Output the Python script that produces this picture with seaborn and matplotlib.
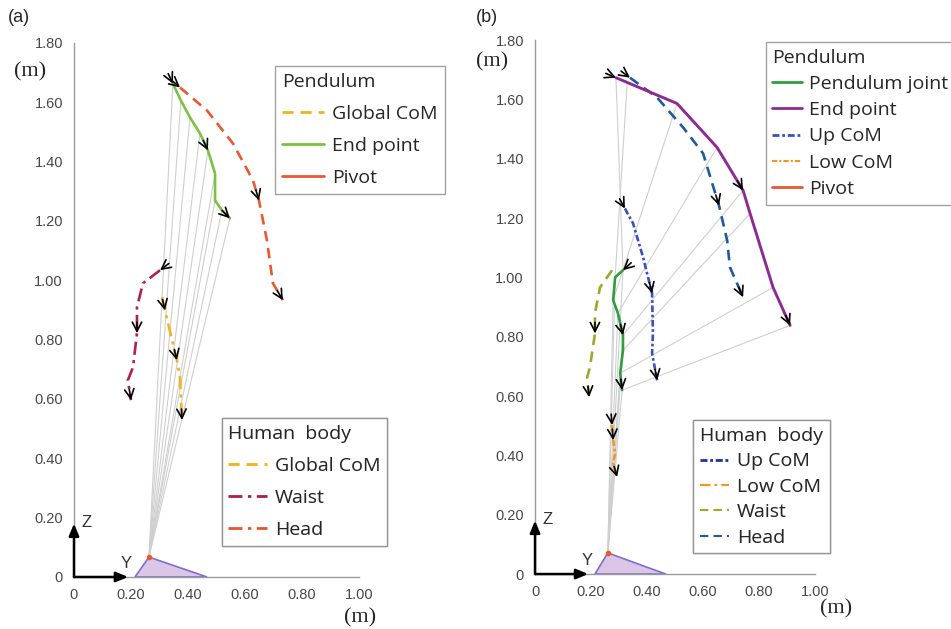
import numpy as np
import matplotlib
matplotlib.use("Agg")
import matplotlib.pyplot as plt
from matplotlib.lines import Line2D
import seaborn as sns

# ----------------- Data (metres) -----------------
XTICKS = [0, 0.2, 0.4, 0.6, 0.8, 1.0]
XTICK_LABELS = ["0", "0.20", "0.40", "0.60", "0.80", "1.00"]
YTICKS = [0, 0.2, 0.4, 0.6, 0.8, 1.0, 1.2, 1.4, 1.6, 1.8]
YTICK_LABELS = ["0", "0.20", "0.40", "0.60", "0.80", "1.00", "1.20", "1.40", "1.60", "1.80"]

# base support (triangle) and pivot
base_a_x = [0.214, 0.263, 0.467]
base_a_y = [0.0, 0.067, 0.0]
base_b_x = [0.214, 0.260, 0.467]
base_b_y = [0.0, 0.071, 0.0]

# panel (a) - single pendulum
a_end_x = [0.347, 0.375, 0.407, 0.442, 0.470, 0.495, 0.495, 0.519, 0.547]
a_end_y = [1.663, 1.606, 1.549, 1.495, 1.438, 1.360, 1.269, 1.236, 1.209]
a_head_x = [0.372, 0.467, 0.558, 0.628, 0.649, 0.677, 0.698, 0.733]
a_head_y = [1.650, 1.572, 1.461, 1.337, 1.269, 1.135, 0.990, 0.933]
a_waist_x = [0.302, 0.242, 0.221, 0.221, 0.207, 0.189, 0.200]
a_waist_y = [1.034, 0.990, 0.909, 0.822, 0.707, 0.663, 0.596]
a_com_x = [0.309, 0.319, 0.361, 0.372, 0.379]
a_com_y = [0.943, 0.899, 0.731, 0.673, 0.529]

# panel (b) - double pendulum
b_end_x = [0.289, 0.329, 0.507, 0.650, 0.743, 0.768, 0.850, 0.911]
b_end_y = [1.673, 1.657, 1.586, 1.438, 1.293, 1.215, 0.966, 0.838]
b_joint_x = [0.314, 0.286, 0.279, 0.296, 0.314, 0.314, 0.304, 0.311]
b_joint_y = [1.024, 1.000, 0.923, 0.879, 0.805, 0.754, 0.677, 0.620]
b_head_x = [0.339, 0.436, 0.529, 0.600, 0.657, 0.686, 0.696, 0.743]
b_head_y = [1.673, 1.606, 1.505, 1.418, 1.242, 1.125, 1.034, 0.933]
b_upcom_x = [0.321, 0.350, 0.386, 0.418, 0.421, 0.418, 0.436]
b_upcom_y = [1.232, 1.182, 1.067, 0.946, 0.811, 0.744, 0.653]
b_waist_x = [0.275, 0.232, 0.214, 0.214, 0.196, 0.186, 0.193]
b_waist_y = [1.024, 0.966, 0.879, 0.811, 0.697, 0.663, 0.596]
b_lowcom_x = [0.275, 0.279, 0.286, 0.279, 0.293]
b_lowcom_y = [0.502, 0.451, 0.407, 0.374, 0.327]

# ----------------- Styles -----------------
YELLOW = "#f2b21b"
GREEN_A = "#7cc242"
RED_ORANGE = "#e9582e"
WAIST_A = "#b01f4f"
PURPLE = "#8e2b93"
GREEN_B = "#2e9e3e"
UP_BLUE = "#3a4fc0"
HEAD_BLUE = "#1f5a9e"
LOW_ORANGE = "#f7941d"
OLIVE = "#a0a82a"
ROD = "#cfcfcf"

DASH = (0, (4, 2.5))
DASHDOT = (0, (5, 2, 1.2, 2))
DENSE = (0, (2.5, 1, 1, 1))

sns.set_theme(style="white")
plt.rcParams["font.family"] = ["Open Sans", "DejaVu Sans"]

fig = plt.figure(figsize=(9.51, 6.29), dpi=100)
ax_a = fig.add_axes([0.0778, 0.0827, 0.3896, 0.849])
ax_b = fig.add_axes([0.5626, 0.0874, 0.3828, 0.849])


def setup_axes(ax):
    ax.set_xlim(0, 1.3)
    ax.set_ylim(0, 1.8)
    for s in ["top", "right"]:
        ax.spines[s].set_visible(False)
    for s in ["left", "bottom"]:
        ax.spines[s].set_color("#9a9a9a")
        ax.spines[s].set_linewidth(1.0)
    ax.spines["bottom"].set_bounds(0, 1.0)
    ax.spines["left"].set_bounds(0, 1.8)
    ax.set_xticks(XTICKS)
    ax.set_xticklabels(XTICK_LABELS)
    ax.set_yticks(YTICKS)
    ax.set_yticklabels(YTICK_LABELS)
    ax.tick_params(direction="in", length=4, width=0.8, color="#9a9a9a",
                   labelsize=10.5, labelcolor="#484848", pad=8)
    for t in ax.get_xticklabels() + ax.get_yticklabels():
        t.set_family(["Liberation Sans", "DejaVu Sans"])
    ax.grid(False)
    ax.patch.set_alpha(0)


def curve(ax, xs, ys, color, ls, lw=1.9):
    sns.lineplot(x=xs, y=ys, sort=False, estimator=None, color=color,
                 linestyle=ls, linewidth=lw, ax=ax, zorder=3)


def add_arrows(ax, xs, ys, idx):
    pts = ax.transData.transform(np.column_stack([xs, ys]))
    for i in idx:
        d = pts[i] - pts[i - 1] if i > 0 else pts[1] - pts[0]
        u = d / np.hypot(*d)
        ax.annotate("", xy=(xs[i], ys[i]), xytext=(-u[0] * 11, -u[1] * 11),
                    textcoords="offset pixels",
                    arrowprops=dict(arrowstyle="->,head_length=0.55,head_width=0.28",
                                    color="black", lw=1.2, shrinkA=0, shrinkB=0),
                    zorder=5)


def base_and_frame(ax, bx, by):
    ax.fill(bx, by, facecolor="#dcc6e6", edgecolor="#7c6fd2", lw=1.2, zorder=2, clip_on=False)
    ax.plot(bx[1], by[1], "o", color=RED_ORANGE, ms=3, zorder=4)
    ax.annotate("", xy=(0, 0.18), xytext=(0, 0),
                arrowprops=dict(arrowstyle="-|>,head_length=0.6,head_width=0.25",
                                color="black", lw=1.8, shrinkA=0, shrinkB=0), zorder=6)
    ax.annotate("", xy=(0.19, 0), xytext=(0, 0),
                arrowprops=dict(arrowstyle="-|>,head_length=0.6,head_width=0.25",
                                color="black", lw=1.8, shrinkA=0, shrinkB=0), zorder=6)
    ax.text(0.025, 0.185, "Z", fontsize=12, color="#333333", va="center",
            family=["Liberation Sans", "DejaVu Sans"])
    ax.text(0.185, 0.045, "Y", fontsize=12, color="#333333", ha="center", va="center",
            family=["Liberation Sans", "DejaVu Sans"])


def legend_box(ax, handles, title, anchor, handlelength, spacing):
    leg = ax.legend(handles=handles, title=title, loc="upper left",
                    bbox_to_anchor=anchor, bbox_transform=fig.transFigure,
                    borderaxespad=0, fontsize=14, title_fontsize=14,
                    handlelength=handlelength, handletextpad=0.4,
                    labelspacing=spacing, frameon=True, fancybox=False,
                    borderpad=0.35, alignment="left")
    leg.get_frame().set_edgecolor("#8a8a8a")
    leg.get_frame().set_linewidth(1.0)
    ax.add_artist(leg)
    return leg


# ----------------- Panel (a) -----------------
setup_axes(ax_a)
for ex, ey in zip(a_end_x, a_end_y):
    ax_a.plot([base_a_x[1], ex], [base_a_y[1], ey], color=ROD, lw=0.8, zorder=1)
base_and_frame(ax_a, base_a_x, base_a_y)
curve(ax_a, a_head_x, a_head_y, RED_ORANGE, DASH)
curve(ax_a, a_end_x, a_end_y, GREEN_A, "-")
curve(ax_a, a_waist_x, a_waist_y, WAIST_A, DASHDOT)
curve(ax_a, a_com_x, a_com_y, YELLOW, DASHDOT)
add_arrows(ax_a, a_head_x, a_head_y, [0, 4, 7])
add_arrows(ax_a, a_end_x, a_end_y, [0, 4, 8])
add_arrows(ax_a, a_waist_x, a_waist_y, [0, 3, 6])
add_arrows(ax_a, a_com_x, a_com_y, [1, 2, 4])

pend_a = [Line2D([], [], color=YELLOW, lw=2, ls=DASH, label="Global CoM"),
          Line2D([], [], color=GREEN_A, lw=2, ls="-", label="End point"),
          Line2D([], [], color=RED_ORANGE, lw=2, ls="-", label="Pivot")]
body_a = [Line2D([], [], color=YELLOW, lw=2, ls=DASH, label="Global CoM"),
          Line2D([], [], color=WAIST_A, lw=2, ls=DASHDOT, label="Waist"),
          Line2D([], [], color=RED_ORANGE, lw=2, ls=DASHDOT, label="Head")]
legend_box(ax_a, pend_a, "Pendulum", (0.289, 0.895), 2.2, 0.72)
legend_box(ax_a, body_a, "Human  body", (0.233, 0.335), 2.0, 0.72)

# ----------------- Panel (b) -----------------
setup_axes(ax_b)
for jx, jy in zip(b_joint_x, b_joint_y):
    ax_b.plot([base_b_x[1], jx], [base_b_y[1], jy], color=ROD, lw=0.8, zorder=1)
for jx, jy, ex, ey in zip(b_joint_x, b_joint_y, b_end_x, b_end_y):
    ax_b.plot([jx, ex], [jy, ey], color=ROD, lw=0.8, zorder=1)
base_and_frame(ax_b, base_b_x, base_b_y)
curve(ax_b, b_head_x, b_head_y, HEAD_BLUE, DASH)
curve(ax_b, b_end_x, b_end_y, PURPLE, "-", lw=2.1)
curve(ax_b, b_joint_x, b_joint_y, GREEN_B, "-")
curve(ax_b, b_upcom_x, b_upcom_y, UP_BLUE, DENSE)
curve(ax_b, b_waist_x, b_waist_y, OLIVE, DASH)
curve(ax_b, b_lowcom_x, b_lowcom_y, LOW_ORANGE, DENSE)
add_arrows(ax_b, b_head_x, b_head_y, [0, 4, 7])
add_arrows(ax_b, b_end_x, b_end_y, [0, 4, 7])
add_arrows(ax_b, b_joint_x, b_joint_y, [0, 4, 7])
add_arrows(ax_b, b_upcom_x, b_upcom_y, [0, 3, 6])
add_arrows(ax_b, b_waist_x, b_waist_y, [3, 6])
add_arrows(ax_b, b_lowcom_x, b_lowcom_y, [0, 1, 4])

pend_b = [Line2D([], [], color=GREEN_B, lw=2, ls="-", label="Pendulum joint"),
          Line2D([], [], color=PURPLE, lw=2, ls="-", label="End point"),
          Line2D([], [], color=UP_BLUE, lw=2, ls=DENSE, label="Up CoM"),
          Line2D([], [], color=LOW_ORANGE, lw=1.5, ls=DENSE, label="Low CoM"),
          Line2D([], [], color=RED_ORANGE, lw=2, ls="-", label="Pivot")]
body_b = [Line2D([], [], color="#2233aa", lw=2, ls=DENSE, label="Up CoM"),
          Line2D([], [], color=LOW_ORANGE, lw=1.5, ls=DASHDOT, label="Low CoM"),
          Line2D([], [], color=OLIVE, lw=1.5, ls=DASH, label="Waist"),
          Line2D([], [], color=HEAD_BLUE, lw=1.5, ls=DASH, label="Head")]
legend_box(ax_b, pend_b, "Pendulum", (0.805, 0.933), 1.5, 0.42)
legend_box(ax_b, body_b, "Human  body", (0.729, 0.332), 1.5, 0.38)

# ----------------- Labels -----------------
serif = ["Liberation Serif", "DejaVu Serif"]
fig.text(30 / 951, 1 - 72 / 629, "(m)", fontsize=16, family=serif, ha="center", va="center")
fig.text(492 / 951, 1 - 62 / 629, "(m)", fontsize=16, family=serif, ha="center", va="center")
fig.text(360 / 951, 1 - 618 / 629, "(m)", fontsize=16, family=serif, ha="center", va="center")
fig.text(836 / 951, 1 - 609 / 629, "(m)", fontsize=16, family=serif, ha="center", va="center")
fig.text(19 / 951, 1 - 18 / 629, "(a)", fontsize=13, ha="center", va="center",
         family=["Liberation Sans", "DejaVu Sans"])
fig.text(487 / 951, 1 - 18 / 629, "(b)", fontsize=13, ha="center", va="center",
         family=["Liberation Sans", "DejaVu Sans"])

fig.savefig("out.png", dpi=100, facecolor="white")
